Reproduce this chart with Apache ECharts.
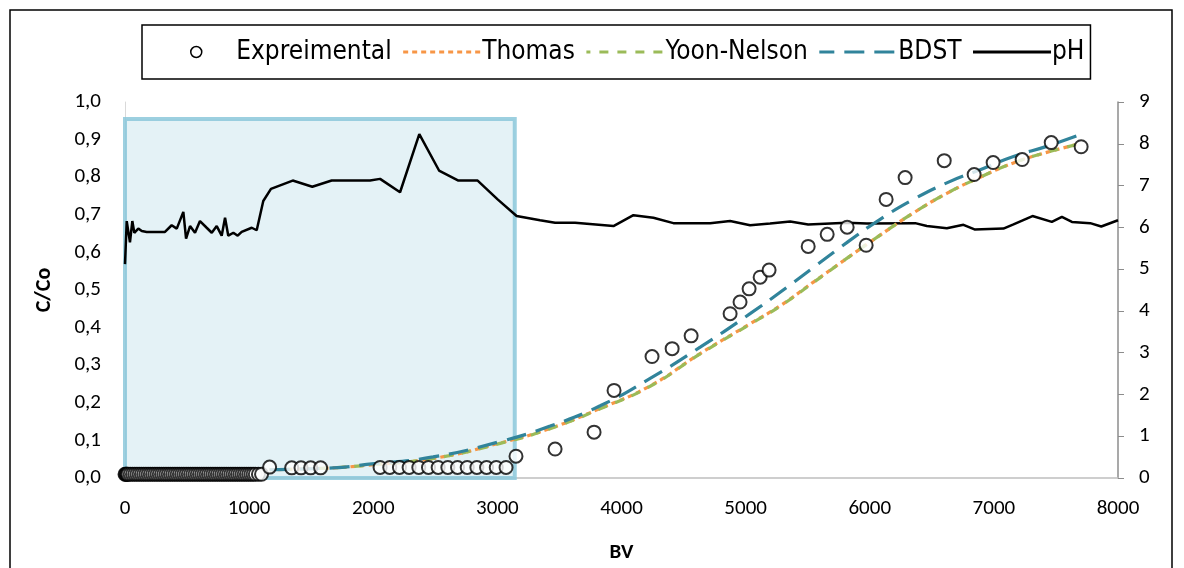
<!DOCTYPE html>
<html>
<head>
<meta charset="utf-8">
<script src="https://cdn.jsdelivr.net/npm/echarts@6/dist/echarts.min.js"></script>
<style>
  html, body { margin: 0; padding: 0; background: #fff; }
  #chart { width: 1184px; height: 568px; }
</style>
</head>
<body>
<div id="chart"></div>
<script>
// experimental breakthrough points (BV, C/Co)
const expBV = [0, 6, 12, 18, 25, 42, 60, 78, 96, 114, 132, 150, 168, 186, 204, 222, 240, 258, 276, 294,
  312, 330, 348, 366, 384, 402, 420, 438, 456, 474, 492, 510, 528, 546, 564, 582, 600, 618, 636, 654,
  672, 690, 708, 726, 744, 762, 780, 798, 816, 834, 852, 870, 888, 906, 924, 942, 960, 978, 996, 1014,
  1032, 1050, 1075, 1100, 1165, 1343, 1418, 1496, 1576,
  2055, 2133, 2211, 2289, 2367, 2445, 2523, 2601, 2679, 2757, 2835, 2913, 2991, 3070,
  3150, 3465, 3779, 3940, 4246, 4408, 4561, 4875, 4955, 5028, 5117, 5189, 5504, 5657, 5818, 5971,
  6132, 6285, 6600, 6841, 6994, 7228, 7462, 7703]
const expCCo = [0.01, 0.01, 0.01, 0.01, 0.01, 0.01, 0.01, 0.01, 0.01, 0.01, 0.01, 0.01, 0.01, 0.01, 0.01, 0.01, 0.01, 0.01, 0.01, 0.01,
  0.01, 0.01, 0.01, 0.01, 0.01, 0.01, 0.01, 0.01, 0.01, 0.01, 0.01, 0.01, 0.01, 0.01, 0.01, 0.01, 0.01, 0.01, 0.01, 0.01,
  0.01, 0.01, 0.01, 0.01, 0.01, 0.01, 0.01, 0.01, 0.01, 0.01, 0.01, 0.01, 0.01, 0.01, 0.01, 0.01, 0.01, 0.01, 0.01, 0.01,
  0.01, 0.01, 0.01, 0.01, 0.029, 0.027, 0.027, 0.027, 0.027,
  0.028, 0.028, 0.028, 0.028, 0.028, 0.028, 0.028, 0.028, 0.028, 0.028, 0.028, 0.028, 0.028, 0.028,
  0.058, 0.077, 0.122, 0.233, 0.323, 0.344, 0.378, 0.437, 0.468, 0.503, 0.534, 0.553, 0.616, 0.648, 0.667, 0.619,
  0.741, 0.799, 0.844, 0.807, 0.839, 0.847, 0.892, 0.881]

// model curves
const fitBV = [1165, 1676, 1947, 2482, 3022, 3425, 3828, 4231, 4634, 5036, 5278, 5546, 5815, 6084, 6352, 6621, 6890, 7158, 7426, 7695]
const thomas = [0.022, 0.027, 0.034, 0.052, 0.093, 0.132, 0.185, 0.245, 0.331, 0.410, 0.458, 0.521, 0.584, 0.646, 0.705, 0.757, 0.800, 0.838, 0.866, 0.889]
const yoonNelson = [0.022, 0.027, 0.034, 0.052, 0.092, 0.131, 0.184, 0.244, 0.330, 0.409, 0.457, 0.520, 0.584, 0.646, 0.705, 0.757, 0.800, 0.838, 0.866, 0.889]
const bdst = [0.022, 0.027, 0.036, 0.056, 0.097, 0.138, 0.192, 0.265, 0.348, 0.437, 0.494, 0.560, 0.626, 0.688, 0.741, 0.785, 0.820, 0.855, 0.882, 0.913]

// pH (right axis)
const phBV = [0, 14, 40, 59, 75, 107, 135, 175, 322, 376,
  417, 470, 492, 524, 564, 604, 658, 699, 739, 779,
  806, 832, 873, 908, 940, 1021, 1061, 1114, 1176, 1351,
  1509, 1665, 1974, 2055, 2216, 2371, 2530, 2686, 2841, 3002,
  3155, 3344, 3465, 3626, 3935, 4096, 4257, 4418, 4714, 4875,
  5036, 5197, 5359, 5504, 5815, 5977, 6366, 6460, 6621, 6755,
  6844, 7077, 7158, 7311, 7467, 7548, 7629, 7776, 7865, 8000]
const phVal = [5.12, 6.15, 5.64, 6.15, 5.87, 5.97, 5.91, 5.89, 5.89, 6.05,
  5.97, 6.37, 5.73, 6.03, 5.87, 6.15, 5.99, 5.87, 6.03, 5.80,
  6.23, 5.80, 5.87, 5.80, 5.89, 5.99, 5.93, 6.63, 6.92, 7.12,
  6.97, 7.12, 7.12, 7.16, 6.84, 8.23, 7.36, 7.12, 7.12, 6.67,
  6.27, 6.17, 6.11, 6.11, 6.03, 6.29, 6.23, 6.10, 6.10, 6.15,
  6.05, 6.09, 6.14, 6.07, 6.11, 6.09, 6.10, 6.03, 5.98, 6.06,
  5.95, 5.97, 6.07, 6.27, 6.13, 6.25, 6.13, 6.10, 6.02, 6.17]

// highlighted region
const shadeBV = [0, 3140]
const shadeTop = 0.955

const zip = (xs, ys) => xs.map((x, i) => [x, ys[i]])

const labelFont = 'Carlito, Lato, "Open Sans", sans-serif'
const legendFont = '"Liberation Sans Narrow", "DejaVu Sans Condensed", "Liberation Sans", sans-serif'

const chart = echarts.init(document.getElementById('chart'), null, { renderer: 'canvas' })
const option = {
  backgroundColor: '#fff',
  animation: false,
  graphic: [
    {
      type: 'rect',
      shape: { x: 10, y: 10, width: 1162, height: 570 },
      style: { fill: 'none', stroke: '#000', lineWidth: 1.5 },
      silent: true
    }
  ],
  legend: {
    left: 142,
    top: 25,
    padding: [14, 6, 14, 48],
    itemGap: 10,
    itemWidth: 78,
    itemHeight: 11,
    borderColor: '#000',
    borderWidth: 1.5,
    itemStyle: { opacity: 0 },
    lineStyle: { width: 3 },
    textStyle: { fontFamily: legendFont, fontSize: 26, color: '#000', padding: [0, 0, 0, -4] },
    data: [
      { name: 'Expreimental', itemStyle: { opacity: 1, borderWidth: 1.5 } },
      'Thomas', 'Yoon-Nelson', 'BDST', 'pH'
    ]
  },
  grid: { left: 125, right: 66, top: 102, bottom: 88, containLabel: false },
  xAxis: {
    type: 'value',
    min: 0,
    max: 8000,
    interval: 1000,
    name: 'BV',
    nameLocation: 'middle',
    nameGap: 64,
    nameTextStyle: { fontFamily: labelFont, fontSize: 21, fontWeight: 'bold', color: '#000' },
    axisLine: { lineStyle: { color: '#bfbfbf', width: 1.5 } },
    axisTick: { show: false },
    splitLine: { show: false },
    axisLabel: { fontFamily: labelFont, fontSize: 21, color: '#000', margin: 20, formatter: v => String(v) }
  },
  yAxis: [
    {
      type: 'value',
      min: 0,
      max: 1,
      interval: 0.1,
      name: 'C/Co',
      nameLocation: 'middle',
      nameRotate: 90,
      nameGap: 70,
      nameTextStyle: { fontFamily: labelFont, fontSize: 22, fontWeight: 'bold', color: '#000' },
      axisLine: { show: true, lineStyle: { color: '#d9d9d9', width: 1 } },
      axisTick: { show: false },
      splitLine: { show: false },
      axisLabel: {
        fontFamily: labelFont, fontSize: 21, color: '#000', margin: 24,
        formatter: v => v.toFixed(1).replace('.', ',')
      }
    },
    {
      type: 'value',
      min: 0,
      max: 9,
      interval: 1,
      position: 'right',
      axisLine: { show: true, lineStyle: { color: '#8c8c8c', width: 1.5 } },
      axisTick: { show: true, inside: false, length: 6, lineStyle: { color: '#8c8c8c' } },
      splitLine: { show: false },
      axisLabel: { fontFamily: labelFont, fontSize: 21, color: '#000', margin: 21 }
    }
  ],
  series: [
    {
      name: 'pH',
      type: 'line',
      yAxisIndex: 1,
      data: zip(phBV, phVal),
      symbol: 'none',
      lineStyle: { color: '#000', width: 2.5 },
      itemStyle: { color: '#000' },
      z: 2
    },
    {
      name: 'Thomas',
      type: 'line',
      data: zip(fitBV, thomas),
      smooth: true,
      symbol: 'none',
      lineStyle: { color: '#F79646', width: 3.2, type: [5, 4] },
      itemStyle: { color: '#F79646' },
      z: 3
    },
    {
      name: 'Yoon-Nelson',
      type: 'line',
      data: zip(fitBV, yoonNelson),
      smooth: true,
      symbol: 'none',
      lineStyle: { color: '#9BBB59', width: 3.2, type: [9, 9], dashOffset: 5 },
      itemStyle: { color: '#9BBB59' },
      z: 3
    },
    {
      name: 'BDST',
      type: 'line',
      data: zip(fitBV, bdst),
      smooth: true,
      symbol: 'none',
      lineStyle: { color: '#31849B', width: 3.2, type: [20, 10] },
      itemStyle: { color: '#31849B' },
      z: 3
    },
    {
      name: 'Expreimental',
      type: 'scatter',
      data: zip(expBV, expCCo),
      symbol: 'circle',
      symbolSize: 13,
      itemStyle: { color: '#fff', borderColor: '#000', borderWidth: 2 },
      z: 4
    },
    {
      name: 'region',
      type: 'line',
      data: [],
      silent: true,
      z: 6,
      markArea: {
        silent: true,
        itemStyle: {
          color: 'rgba(146,205,220,0.25)',
          borderColor: 'rgba(140,200,218,0.85)',
          borderWidth: 4
        },
        data: [[{ coord: [shadeBV[0], 0] }, { coord: [shadeBV[1], shadeTop] }]]
      }
    }
  ]
}
chart.setOption(option)
</script>
</body>
</html>
